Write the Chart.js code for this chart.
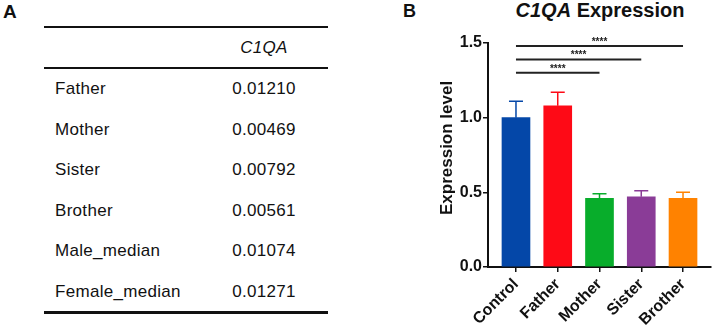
<!DOCTYPE html>
<html>
<head>
<meta charset="utf-8">
<script src="https://cdn.jsdelivr.net/npm/chart.js@4.4.1/dist/chart.umd.min.js"></script>
<style>
  html, body { margin: 0; padding: 0; background: #fff; }
  body { width: 713px; height: 328px; position: relative; overflow: hidden;
         font-family: "Liberation Sans", Arial, sans-serif; color: #111; }
  .panel { position: absolute; font-weight: bold; }
  #lblA { left: 3px; top: 2px; font-size: 19px; line-height: 19px; }
  #lblB { left: 403px; top: 2px; font-size: 18px; line-height: 18px; }
  #title { position: absolute; left: 500px; width: 200px; top: 0; text-align: center;
           font-size: 20px; line-height: 20px; font-weight: bold; }
  .rule { position: absolute; left: 44px; width: 284px; background: #111; }
  .row { position: absolute; left: 44px; width: 284px; font-size: 17px; letter-spacing: 0.3px; }
  .row .name { position: absolute; left: 11px; }
  .row .val { position: absolute; left: 188px; width: 64px; text-align: center; }
  #chartBox { position: absolute; left: 400px; top: 0; width: 313px; height: 328px; }
</style>
</head>
<body>
<div class="panel" id="lblA">A</div>
<div class="panel" id="lblB">B</div>
<div id="title"><i>C1QA</i> Expression</div>
<div id="table"></div>
<div id="chartBox"><canvas id="chartC1QA"></canvas></div>
<script>
// table (panel A)
const tableHeader = 'C1QA';
const tableRows = ['Father', 'Mother', 'Sister', 'Brother', 'Male_median', 'Female_median'];
const tableValues = ['0.01210', '0.00469', '0.00792', '0.00561', '0.01074', '0.01271'];

// bar chart (panel B)
const categories = ['Control', 'Father', 'Mother', 'Sister', 'Brother'];
const meanValues = [1.00, 1.08, 0.46, 0.47, 0.46];
const errorTops = [1.11, 1.17, 0.49, 0.51, 0.50];   // mean + error
const barColors = ['#0447a8', '#fe0a16', '#08ad2b', '#8a3c97', '#ff8200'];
const yTicks = [0, 0.5, 1.0, 1.5];

// significance brackets: Control vs Mother / Sister / Brother
const sigFrom = [0, 0, 0];
const sigTo = [2, 3, 4];
const sigHeights = [1.30, 1.39, 1.48];
const sigLabels = ['****', '****', '****'];

// build the table
var tbl = document.getElementById('table');
var html = '';
html += '<div class="rule" style="top:25.5px;height:2.5px"></div>';
html += '<div class="row" style="top:28px;height:39px;line-height:39px"><span class="val"><i>' + tableHeader + '</i></span></div>';
html += '<div class="rule" style="top:67px;height:2px"></div>';
tableRows.forEach(function (name, i) {
    var top = 69 + i * 40.6;
    html += '<div class="row" style="top:' + top + 'px;height:40.6px;line-height:40.6px">' +
        '<span class="name">' + name + '</span><span class="val">' + tableValues[i] + '</span></div>';
});
html += '<div class="rule" style="top:310.5px;height:3px"></div>';
tbl.innerHTML = html;

Chart.defaults.font.family = '"Liberation Sans", Arial, sans-serif';
Chart.defaults.color = '#111';

const errorBars = {
    id: 'errorBars',
    afterDatasetsDraw(chart) {
        const ctx = chart.ctx;
        const y = chart.scales.y;
        chart.getDatasetMeta(0).data.forEach((bar, i) => {
            const top = y.getPixelForValue(errorTops[i]);
            ctx.save();
            ctx.strokeStyle = barColors[i];
            ctx.lineWidth = 1.5;
            ctx.beginPath();
            ctx.moveTo(bar.x, bar.y);
            ctx.lineTo(bar.x, top);
            ctx.moveTo(bar.x - 7, top);
            ctx.lineTo(bar.x + 7, top);
            ctx.stroke();
            ctx.restore();
        });
    }
};

const sigBrackets = {
    id: 'sigBrackets',
    afterDraw(chart) {
        const ctx = chart.ctx;
        const x = chart.scales.x, y = chart.scales.y;
        sigHeights.forEach((h, i) => {
            const x1 = x.getPixelForValue(sigFrom[i]);
            const x2 = x.getPixelForValue(sigTo[i]);
            const py = y.getPixelForValue(h);
            ctx.save();
            ctx.strokeStyle = '#222';
            ctx.lineWidth = 2;
            ctx.beginPath();
            ctx.moveTo(x1, py);
            ctx.lineTo(x2, py);
            ctx.stroke();
            ctx.fillStyle = '#222';
            ctx.font = 'bold 10px "Liberation Sans", Arial, sans-serif';
            ctx.textAlign = 'center';
            ctx.textBaseline = 'alphabetic';
            ctx.fillText(sigLabels[i], (x1 + x2) / 2, py - 1);
            ctx.restore();
        });
    }
};

const chartC1QA = new Chart(document.getElementById('chartC1QA'), {
    type: 'bar',
    plugins: [errorBars, sigBrackets],
    data: {
        datasets: [{
            data: meanValues.map((v, i) => ({ x: i, y: v })),
            backgroundColor: barColors,
            borderWidth: 0,
            barThickness: 28,
        }],
    },
    options: {
        responsive: true,
        maintainAspectRatio: false,
        animation: false,
        layout: { padding: { top: 43, left: 33, right: 2, bottom: 0 } },
        plugins: {
            legend: { display: false },
            tooltip: { enabled: false },
        },
        scales: {
            x: {
                type: 'linear',
                offset: false,
                min: -0.67,
                max: 4.67,
                afterBuildTicks: (scale) => { scale.ticks = categories.map((c, i) => ({ value: i })); },
                afterFit: (scale) => { scale.height = 61; },
                border: { display: true, color: '#111', width: 2 },
                grid: { offset: false, drawOnChartArea: false, color: '#111', lineWidth: 1.5, tickLength: 5 },
                ticks: {
                    autoSkip: false,
                    minRotation: 45,
                    maxRotation: 45,
                    padding: 3,
                    color: '#111',
                    font: { size: 16, weight: 'bold' },
                    callback: (v) => categories[v],
                },
            },
            y: {
                min: 0,
                max: 1.5,
                afterBuildTicks: (scale) => { scale.ticks = yTicks.map(v => ({ value: v })); },
                afterFit: (scale) => { scale.width = 55; },
                border: { display: true, color: '#111', width: 2 },
                grid: { drawOnChartArea: false, color: '#111', lineWidth: 1.5, tickLength: 5 },
                ticks: {
                    padding: 1,
                    color: '#111',
                    font: { size: 16, weight: 'bold' },
                    callback: (v) => Number(v).toFixed(1),
                },
                title: {
                    display: true,
                    text: '   Expression level',
                    color: '#111',
                    font: { size: 17, weight: 'bold' },
                },
            },
        },
    },
});
</script>
</body>
</html>
